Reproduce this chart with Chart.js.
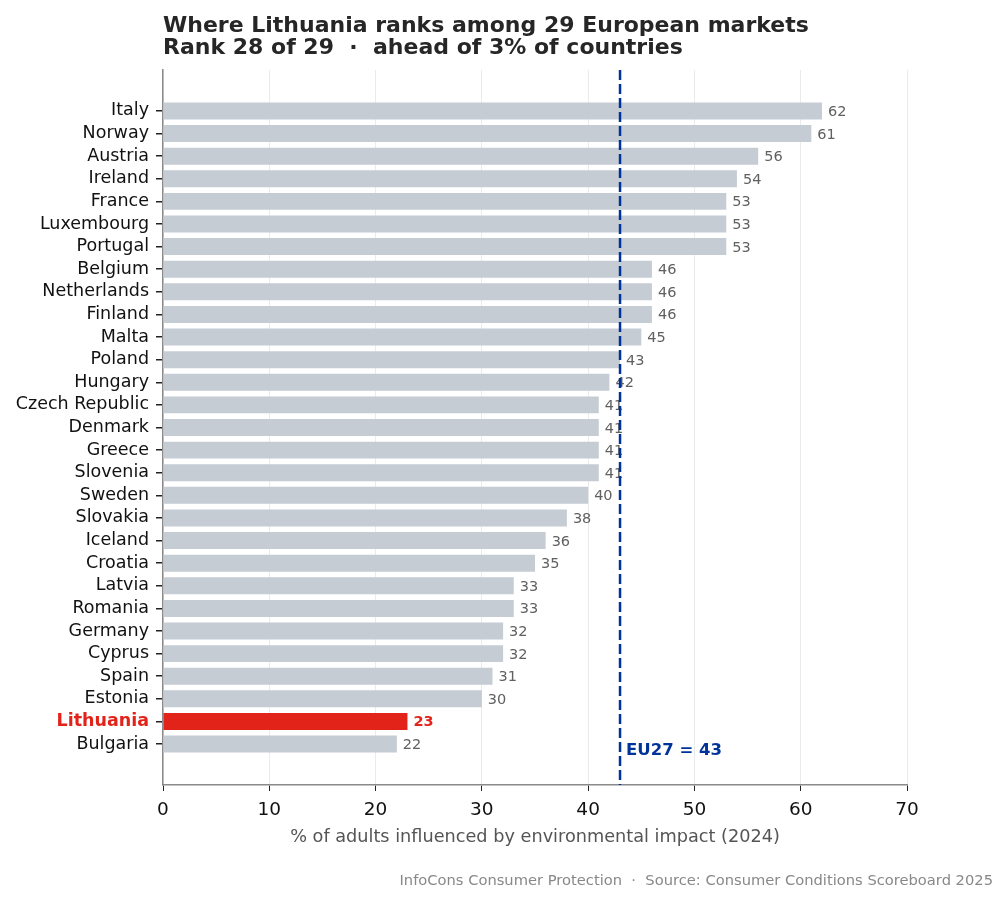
<!DOCTYPE html>
<html>
<head>
<meta charset="utf-8">
<script src="https://cdn.jsdelivr.net/npm/chart.js@4.4.1/dist/chart.umd.min.js"></script>
<style>
  html, body { margin: 0; padding: 0; background: #fff; }
  canvas { display: block; }
</style>
</head>
<body>
<canvas id="chart" width="1008" height="902"></canvas>
<script>
// --- DATA ---
const countries = ['Italy', 'Norway', 'Austria', 'Ireland', 'France', 'Luxembourg', 'Portugal', 'Belgium',
    'Netherlands', 'Finland', 'Malta', 'Poland', 'Hungary', 'Czech Republic', 'Denmark', 'Greece', 'Slovenia',
    'Sweden', 'Slovakia', 'Iceland', 'Croatia', 'Latvia', 'Romania', 'Germany', 'Cyprus', 'Spain', 'Estonia',
    'Lithuania', 'Bulgaria'];
const values = [62, 61, 56, 54, 53, 53, 53, 46, 46, 46, 45, 43, 42, 41, 41, 41, 41, 40, 38, 36, 35, 33, 33,
    32, 32, 31, 30, 23, 22];
const highlight = 'Lithuania';
const euAverage = 43;
const xTicks = [0, 10, 20, 30, 40, 50, 60, 70];

const titleLines = ['Where Lithuania ranks among 29 European markets', 'Rank 28 of 29  \u00b7  ahead of 3% of countries'];
const xTitle = '% of adults influenced by environmental impact (2024)';
const footer = 'InfoCons Consumer Protection  \u00b7  Source: Consumer Conditions Scoreboard 2025';

const FONT = "'DejaVu Sans', sans-serif";
const GREY_BAR = '#c6ccd4';
const RED = '#e2231a';
const BLUE = '#00339a';

// first country sits at the top: row position counts down from the top
const last = countries.length - 1;
const rowOf = i => last - i;
const nameAt = pos => countries[last - pos];
const isHot = c => !!(c && c.tick && nameAt(c.tick.value) === highlight);

// --- EXTRA DRAWING: value labels, EU line, title, footer ---
const extras = {
    id: 'extras',
    afterDatasetsDraw(chart) {
        const ctx = chart.ctx;
        const meta = chart.getDatasetMeta(0);
        const area = chart.chartArea;
        ctx.save();
        ctx.textBaseline = 'alphabetic';
        ctx.textAlign = 'left';
        meta.data.forEach((bar, i) => {
            const hot = countries[i] === highlight;
            ctx.font = (hot ? 'bold ' : '') + '14.5px ' + FONT;
            ctx.fillStyle = hot ? RED : '#606060';
            ctx.fillText(String(values[i]), bar.x + 6, bar.y + 5);
        });

        const xs = chart.scales.x;
        const ys = chart.scales.y;
        const ex = xs.getPixelForValue(euAverage);
        ctx.strokeStyle = BLUE;
        ctx.lineWidth = 2.5;
        ctx.setLineDash([10, 4]);
        ctx.beginPath();
        ctx.moveTo(ex, area.top);
        ctx.lineTo(ex, area.bottom);
        ctx.stroke();
        ctx.setLineDash([]);

        ctx.font = 'bold 16.5px ' + FONT;
        ctx.fillStyle = BLUE;
        ctx.fillText('EU27 = ' + euAverage, ex + 6, ys.getPixelForValue(rowOf(last)) + 11);
        ctx.restore();
    },
    afterDraw(chart) {
        const ctx = chart.ctx;
        const area = chart.chartArea;
        ctx.save();
        ctx.textBaseline = 'alphabetic';
        ctx.textAlign = 'left';
        ctx.fillStyle = '#262626';
        ctx.font = 'bold 22px ' + FONT;
        titleLines.forEach((line, i) => ctx.fillText(line, area.left, 31.5 + i * 22.8));

        ctx.textAlign = 'right';
        ctx.fillStyle = '#888';
        ctx.font = '14.7px ' + FONT;
        ctx.fillText(footer, chart.width - 15, 885);
        ctx.restore();
    }
};

new Chart(document.getElementById('chart'), {
    type: 'bar',
    data: {
        datasets: [{
            data: countries.map((c, i) => ({ x: values[i], y: rowOf(i) })),
            backgroundColor: countries.map(c => c === highlight ? RED : GREY_BAR),
            borderWidth: 0,
            categoryPercentage: 1,
            barPercentage: 0.75
        }]
    },
    options: {
        indexAxis: 'y',
        responsive: false,
        animation: false,
        events: [],
        layout: { padding: { top: 70, right: 101, bottom: 54, left: 0 } },
        plugins: {
            legend: { display: false },
            tooltip: { enabled: false },
            title: { display: false }
        },
        scales: {
            x: {
                type: 'linear',
                min: 0,
                max: 70,
                afterBuildTicks: axis => { axis.ticks = xTicks.map(v => ({ value: v })); },
                afterFit: scale => { scale.height = 63; },
                ticks: { color: '#111', font: { family: FONT, size: 18.5 }, padding: 8 },
                grid: { color: '#ebebeb', lineWidth: 1, tickLength: 6, tickColor: '#222' },
                border: { color: '#8a8a8a', width: 1.5 },
                title: {
                    display: true,
                    text: xTitle,
                    color: '#555',
                    font: { family: FONT, size: 17.7 },
                    padding: { top: 0, bottom: 0 }
                }
            },
            y: {
                type: 'linear',
                offset: false,
                min: -1.81,
                max: last + 1.81,
                afterBuildTicks: axis => { axis.ticks = countries.map((c, i) => ({ value: rowOf(i) })); },
                afterFit: scale => { scale.width = 163; },
                ticks: {
                    autoSkip: false,
                    padding: 7,
                    callback: v => nameAt(v),
                    color: c => isHot(c) ? RED : '#111',
                    font: c => ({ family: FONT, size: 17.5, weight: isHot(c) ? 'bold' : 'normal' })
                },
                grid: { offset: false, drawOnChartArea: false, tickLength: 7, tickColor: '#222', lineWidth: 1.5 },
                border: { color: '#8a8a8a', width: 1.5 }
            }
        }
    },
    plugins: [extras]
});
</script>
</body>
</html>
